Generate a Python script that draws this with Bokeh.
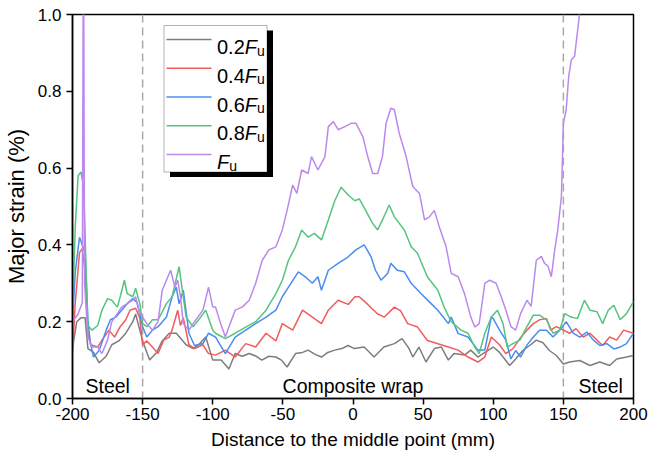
from bokeh.plotting import figure
from bokeh.models import Range1d, FixedTicker, BoxAnnotation, Label, Span
from bokeh.embed import file_html
from bokeh.resources import INLINE

# ---------------- data ----------------
x_ticks = [-200, -150, -100, -50, 0, 50, 100, 150, 200]
x_tick_labels = ["-200", "-150", "-100", "-50", "0", "50", "100", "150", "200"]
y_ticks = [0.0, 0.2, 0.4, 0.6, 0.8, 1.0]
y_tick_labels = ["0.0", "0.2", "0.4", "0.6", "0.8", "1.0"]
series_names = ["0.2", "0.4", "0.6", "0.8", ""]
series_colors = ["#7d7d7d", "#f25c5c", "#4a8cf0", "#55c47f", "#bb88ec"]
boundaries = [-150, 150]

gray_pts = [(-200, 0.13), (-197, 0.20), (-194, 0.21), (-191, 0.21), (-189, 0.13), (-185, 0.12),
            (-181, 0.093), (-176, 0.11), (-172, 0.14), (-167, 0.15), (-162, 0.17), (-157, 0.20),
            (-155, 0.22), (-150, 0.15), (-145, 0.10), (-140, 0.12), (-136, 0.15), (-131, 0.17),
            (-126, 0.17), (-119, 0.14), (-114, 0.13), (-110, 0.14), (-105, 0.16), (-100, 0.10),
            (-94, 0.10), (-88.5, 0.077), (-84, 0.117), (-79, 0.11), (-74, 0.117), (-69, 0.11),
            (-65, 0.10), (-60, 0.11), (-55, 0.108), (-51, 0.10), (-47, 0.082), (-41, 0.117),
            (-36, 0.12), (-32, 0.126), (-27, 0.115), (-22.5, 0.108), (-18, 0.12), (-13, 0.126),
            (-8, 0.13), (-3.5, 0.138), (1, 0.13), (8, 0.134), (15, 0.108), (22, 0.134),
            (29.5, 0.143), (35, 0.156), (40, 0.13), (42.6, 0.108), (47, 0.134), (52, 0.095),
            (58, 0.13), (63, 0.134), (68, 0.10), (72, 0.117), (79.5, 0.113), (84, 0.126),
            (89, 0.108), (94, 0.12), (100, 0.134), (104.5, 0.12), (111.7, 0.086), (116, 0.103),
            (121, 0.125), (126, 0.138), (130.7, 0.152), (135.5, 0.145), (140, 0.125), (145, 0.112),
            (150, 0.09), (154.5, 0.095), (161.7, 0.099), (169, 0.086), (176, 0.095), (183, 0.086),
            (188, 0.103), (195, 0.108), (200, 0.112)]

red_pts = [(-200, 0.12), (-198, 0.25), (-195, 0.38), (-193, 0.39), (-191, 0.33), (-189, 0.17),
           (-187, 0.14), (-182, 0.134), (-179, 0.152), (-174, 0.178), (-170, 0.16), (-166, 0.187),
           (-162, 0.205), (-159, 0.23), (-155, 0.235), (-152, 0.21), (-150, 0.14), (-147, 0.15),
           (-143, 0.134), (-139, 0.117), (-135, 0.152), (-131, 0.16), (-129, 0.178), (-125, 0.23),
           (-123, 0.19), (-121, 0.21), (-117, 0.14), (-113, 0.13), (-107, 0.14), (-103, 0.117),
           (-98, 0.113), (-91, 0.126), (-84, 0.108), (-76.5, 0.143), (-69.4, 0.134), (-62, 0.17),
           (-55, 0.15), (-50.4, 0.195), (-43, 0.178), (-36, 0.23), (-29, 0.212), (-22.5, 0.195),
           (-17.6, 0.23), (-10.6, 0.256), (-3.4, 0.245), (1.3, 0.265), (4.5, 0.265), (10.5, 0.245),
           (17.6, 0.22), (22.4, 0.212), (29.5, 0.238), (34, 0.228), (39, 0.195), (46, 0.186),
           (53, 0.151), (60, 0.143), (68, 0.134), (75, 0.126), (82, 0.108), (89, 0.095),
           (94, 0.108), (98.6, 0.16), (104.5, 0.14), (109, 0.117), (114, 0.13), (119, 0.156),
           (124, 0.178), (128.6, 0.195), (133, 0.205), (138, 0.208), (141, 0.178), (145, 0.187),
           (150, 0.178), (154.5, 0.17), (159, 0.182), (164, 0.16), (169, 0.17), (174, 0.152),
           (178, 0.138), (183, 0.16), (188, 0.152), (193, 0.178), (200, 0.17)]

blue_pts = [(-200, 0.20), (-198, 0.33), (-195, 0.42), (-193, 0.40), (-191, 0.38), (-189, 0.20),
            (-187, 0.14), (-185, 0.108), (-181, 0.125), (-176, 0.178), (-173, 0.205), (-169, 0.212),
            (-165, 0.23), (-161, 0.247), (-157, 0.26), (-154, 0.25), (-150, 0.187), (-147, 0.16),
            (-143, 0.178), (-139, 0.187), (-133, 0.212), (-129, 0.265), (-126, 0.29), (-124, 0.247),
            (-121, 0.282), (-117, 0.17), (-113, 0.138), (-107, 0.143), (-103, 0.17), (-98, 0.16),
            (-91, 0.117), (-84, 0.16), (-76.5, 0.178), (-69.4, 0.195), (-62, 0.212), (-55, 0.23),
            (-50.4, 0.265), (-46, 0.29), (-39, 0.33), (-34, 0.317), (-29, 0.30), (-25, 0.317),
            (-22.5, 0.282), (-17.6, 0.334), (-10.6, 0.352), (-3.4, 0.369), (2, 0.387), (8, 0.40),
            (12.9, 0.369), (16, 0.334), (20, 0.308), (24.8, 0.326), (27, 0.352), (31.6, 0.334),
            (36.6, 0.33), (41.5, 0.30), (48.6, 0.273), (55.7, 0.247), (60.5, 0.23), (68, 0.195),
            (70, 0.212), (75, 0.169), (82, 0.16), (89, 0.126), (94, 0.126), (98.6, 0.212),
            (100, 0.208), (104.5, 0.178), (109, 0.152), (112.6, 0.103), (116, 0.125), (119.5, 0.108),
            (124, 0.139), (128.6, 0.16), (133, 0.178), (138, 0.178), (142.6, 0.16), (147.4, 0.178),
            (152, 0.20), (157, 0.17), (161.7, 0.16), (166.7, 0.173), (171.4, 0.152), (176, 0.138),
            (181, 0.143), (186, 0.129), (190.5, 0.134), (195, 0.143), (200, 0.17)]

green_pts = [(-200, 0.22), (-198, 0.45), (-196, 0.58), (-194, 0.59), (-192, 0.55), (-190, 0.30),
             (-189, 0.19), (-186, 0.178), (-182, 0.19), (-179, 0.23), (-175, 0.26), (-172, 0.256),
             (-168, 0.238), (-166, 0.265), (-163, 0.308), (-161, 0.273), (-157, 0.265), (-155, 0.287),
             (-152, 0.247), (-150, 0.195), (-147, 0.187), (-143, 0.205), (-139, 0.205), (-133, 0.247),
             (-129, 0.265), (-124, 0.343), (-122, 0.29), (-119, 0.212), (-114, 0.187), (-110, 0.205),
             (-105, 0.23), (-100, 0.178), (-98, 0.17), (-91, 0.156), (-84, 0.17), (-76.5, 0.186),
             (-69.4, 0.20), (-62, 0.23), (-55, 0.273), (-50.4, 0.308), (-46, 0.36), (-41, 0.395),
             (-36.6, 0.439), (-32, 0.42), (-27.5, 0.43), (-22.5, 0.413), (-17.6, 0.465), (-13, 0.515),
             (-8.5, 0.55), (-3.4, 0.53), (1.3, 0.515), (4.5, 0.52), (9, 0.49), (14, 0.456),
             (17.6, 0.439), (21, 0.465), (25.8, 0.504), (29.5, 0.473), (36.6, 0.439), (41.5, 0.395),
             (46, 0.378), (53, 0.317), (60.5, 0.282), (65, 0.238), (70, 0.20), (77, 0.178),
             (82, 0.17), (86.8, 0.134), (90, 0.117), (94, 0.17), (98.6, 0.212), (103, 0.23),
             (107, 0.195), (110, 0.134), (114, 0.143), (119, 0.152), (124, 0.187), (128.6, 0.217),
             (133, 0.217), (138, 0.205), (142.6, 0.17), (147.4, 0.178), (151, 0.221), (155.5, 0.212),
             (160, 0.208), (165, 0.256), (169, 0.23), (174, 0.226), (178, 0.195), (182, 0.23),
             (186, 0.243), (190.5, 0.205), (195, 0.221), (200, 0.252)]

purple_pts = [(-200, 0.20), (-196, 0.22), (-193, 0.25), (-192.2, 1.3), (-191.4, 0.3), (-189, 0.16),
              (-186, 0.134), (-182, 0.134), (-179, 0.117), (-175, 0.152), (-172, 0.20), (-168, 0.221),
              (-165, 0.238), (-161, 0.247), (-157, 0.256), (-155, 0.265), (-152, 0.221), (-150, 0.212),
              (-147, 0.195), (-143, 0.178), (-139, 0.20), (-136, 0.282), (-132, 0.317), (-130, 0.334),
              (-127, 0.29), (-125, 0.308), (-123, 0.265), (-121, 0.195), (-117, 0.178), (-113, 0.20),
              (-107, 0.23), (-103, 0.29), (-100, 0.238), (-98, 0.238), (-94.4, 0.195), (-91, 0.16),
              (-87.6, 0.195), (-84, 0.23), (-79, 0.238), (-74, 0.256), (-69.4, 0.30), (-64.7, 0.36),
              (-60, 0.387), (-55, 0.395), (-50.4, 0.439), (-47, 0.49), (-43, 0.556), (-40, 0.534),
              (-36.6, 0.595), (-32, 0.586), (-29.6, 0.63), (-25, 0.595), (-20, 0.63), (-17.6, 0.708),
              (-14, 0.721), (-10.6, 0.70), (-5.8, 0.708), (-1, 0.717), (2, 0.717), (7, 0.682),
              (10.5, 0.63), (14, 0.586), (17.6, 0.586), (21, 0.63), (23.6, 0.717), (27, 0.756),
              (29.5, 0.752), (33, 0.69), (37.9, 0.63), (42.6, 0.552), (47.4, 0.534), (51, 0.465),
              (54.5, 0.473), (58, 0.49), (61.5, 0.447), (66.4, 0.395), (70, 0.326), (75, 0.317),
              (79.5, 0.273), (84, 0.212), (86.8, 0.186), (90, 0.195), (94, 0.30), (97.4, 0.308),
              (102, 0.30), (105.7, 0.265), (109, 0.23), (112.6, 0.187), (116, 0.178), (119.5, 0.221),
              (124, 0.256), (127, 0.24), (130.7, 0.36), (134.3, 0.37), (136.6, 0.352), (139, 0.345),
              (141.4, 0.317), (143.8, 0.386), (146, 0.439), (148.6, 0.526), (150, 0.717), (152, 0.752),
              (153.8, 0.839), (155.7, 0.882), (158, 0.891), (160.5, 0.969), (162, 1.02), (166, 1.3),
              (170, 1.6)]

all_series = [gray_pts, red_pts, blue_pts, green_pts, purple_pts]

# ---------------- figure ----------------
FONT = "Liberation Sans"
X0, X1, Y0, Y1 = -200, 200, 0.0, 1.0
FL, FR, FT, FB = 72, 633, 14, 398   # frame edges in pixels

p = figure(width=660, height=458, x_range=Range1d(X0, X1), y_range=Range1d(Y0, Y1),
           output_backend="svg", toolbar_location=None,
           min_border_left=FL, min_border_right=660 - FR, min_border_top=FT,
           min_border_bottom=458 - FB)
p.background_fill_color = "white"
p.border_fill_color = "white"
p.outline_line_color = "black"
p.outline_line_width = 1.5
p.grid.visible = False


def px2x(px):
    return X0 + (px - FL) * (X1 - X0) / (FR - FL)


def py2y(py):
    return Y0 + (FB - py) * (Y1 - Y0) / (FB - FT)


for ax in (p.xaxis[0], p.yaxis[0]):
    ax.axis_line_color = "black"
    ax.axis_line_width = 1.5
    ax.major_tick_line_color = "black"
    ax.major_tick_line_width = 1.5
    ax.major_tick_in = 0
    ax.major_tick_out = 6
    ax.minor_tick_line_color = None
    ax.major_label_text_font = FONT
    ax.major_label_text_font_size = "17px"
    ax.major_label_text_color = "black"
    ax.axis_label_text_font = FONT
    ax.axis_label_text_font_style = "normal"
    ax.axis_label_text_color = "black"

p.xaxis.axis_label_text_font_size = "19px"
p.yaxis.axis_label_text_font_size = "22px"
p.xaxis.ticker = FixedTicker(ticks=x_ticks)
p.xaxis.major_label_overrides = {t: l for t, l in zip(x_ticks, x_tick_labels)}
p.yaxis.ticker = FixedTicker(ticks=y_ticks)
p.yaxis.major_label_overrides = {t: l for t, l in zip(y_ticks, y_tick_labels)}
p.xaxis.axis_label = "Distance to the middle point (mm)"
p.yaxis.axis_label = "Major strain (%)"
p.xaxis.major_label_standoff = 3
p.yaxis.major_label_standoff = 5
p.xaxis.axis_label_standoff = 6
p.yaxis.axis_label_standoff = 6

for b in boundaries:
    p.add_layout(Span(location=b, dimension="height", line_color="#a8a8a8",
                      line_width=1.5, line_dash="8 5", level="underlay"))

for pts, col in zip(all_series, series_colors):
    xs = [a for a, _ in pts]
    ys = [b for _, b in pts]
    p.line(xs, ys, line_color=col, line_width=1.5)

# region annotations
for txt, xv, align in [("Steel", px2x(85), "left"), ("Composite wrap", 0, "center"),
                       ("Steel", px2x(578), "left")]:
    p.add_layout(Label(x=xv, y=py2y(385), text=txt, text_font=FONT, text_font_size="19.5px",
                       text_color="black", text_align=align, text_baseline="alphabetic"))

# ---------------- legend (hand drawn, with italic F and subscript u) ----------------
LL, LR, LT, LB = 163.5, 266.5, 25, 171.5
p.add_layout(BoxAnnotation(left=px2x(LL + 6), right=px2x(LR + 6), top=py2y(LT + 5),
                           bottom=py2y(LB + 5), fill_color="black", fill_alpha=1,
                           line_color=None, level="annotation"))
p.add_layout(BoxAnnotation(left=px2x(LL), right=px2x(LR), top=py2y(LT), bottom=py2y(LB),
                           fill_color="white", fill_alpha=1, line_color="black",
                           line_width=1, level="annotation"))

digit_w = {"0": 0.556, "2": 0.556, "4": 0.556, "6": 0.556, "8": 0.556, ".": 0.278}
LEG_FS = 20
for i, (name, col) in enumerate(zip(series_names, series_colors)):
    yrow = 39 + i * 28.75
    p.line([px2x(166), px2x(211)], [py2y(yrow), py2y(yrow)], line_color=col,
           line_width=1.5, level="overlay")
    xt = 216.5
    if name:
        p.add_layout(Label(x=px2x(xt), y=py2y(yrow + 7.5), text=name, text_font=FONT,
                           text_font_size=f"{LEG_FS}px", text_color="black",
                           text_baseline="alphabetic", level="overlay"))
        xt += sum(digit_w[c] for c in name) * LEG_FS
    p.add_layout(Label(x=px2x(xt), y=py2y(yrow + 7.5), text="F", text_font=FONT,
                       text_font_size=f"{LEG_FS}px", text_font_style="italic",
                       text_color="black", text_baseline="alphabetic", level="overlay"))
    xt += 0.611 * LEG_FS
    p.add_layout(Label(x=px2x(xt), y=py2y(yrow + 11), text="u", text_font=FONT,
                       text_font_size="14px", text_color="black",
                       text_baseline="alphabetic", level="overlay"))

open("out.html", "w").write(file_html(p, INLINE))
